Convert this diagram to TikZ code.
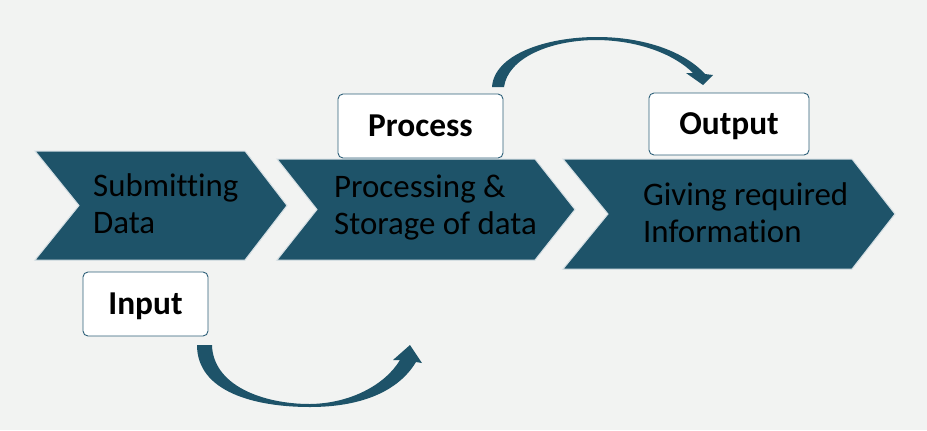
\documentclass[tikz,border=0pt]{standalone}
\usepackage{fontspec}
\setmainfont{Carlito}[Ligatures=NoCommon]
\definecolor{bgc}{HTML}{F2F3F2}
\definecolor{teal}{HTML}{1E5369}
\definecolor{chevline}{HTML}{D5DFE4}
\definecolor{boxline}{HTML}{2E6079}
\begin{document}
\begin{tikzpicture}[x=1bp,y=-1bp,
  chev/.style={fill=teal,draw=chevline,line width=1bp,line join=miter},
  chevtext/.style={anchor=north west,inner sep=0pt,align=left,text=black,
    font=\fontsize{33}{37.5}\selectfont},
  lbl/.style={draw=boxline,line width=0.9bp,fill=white,rounded corners=5bp,
    inner sep=0pt,text height=21.3bp,text depth=0pt,
    font=\fontsize{33.5}{38}\selectfont\bfseries},
  curvearrow/.style={fill=teal,draw=none}]
\fill[bgc] (0,0) rectangle (927,430);
\useasboundingbox (0,0) rectangle (927,430);
% chevrons
\draw[chev] (35,151) -- (245,151) -- (287,205.5) -- (245,260) -- (35,260) -- (79,205.5) -- cycle;
\draw[chev] (277,159) -- (535,159) -- (575,209.5) -- (535,260) -- (277,260) -- (317,209.5) -- cycle;
\draw[chev] (563,159) -- (852,159) -- (895,214) -- (852,269) -- (563,269) -- (608,214) -- cycle;
% chevron texts
\node[chevtext] (t1) at (93,173.5) {Submitting\\Data};
\node[chevtext] (t2) at (334,174.5) {Processing \&\\Storage of data};
\node[chevtext] (t3) at (643,182.5) {Giving required\\Information};
% labels
\node[lbl,minimum width=165bp,minimum height=64bp] (proc) at (420.5,126) {Process};
\node[lbl,minimum width=160bp,minimum height=62bp] (outp) at (729,124) {Output};
\node[lbl,minimum width=125bp,minimum height=64bp] (inp) at (145.5,304) {Input};
% bottom curved arrow
\fill[curvearrow] (197,345) .. controls (197,392) and (255,407) .. (310,407)
  .. controls (360,407) and (398,392) .. (416,362)
  -- (422,363) -- (410,345) -- (393,360) -- (400,360)
  .. controls (385,385) and (350,403.5) .. (310,404)
  .. controls (262,404) and (213,385) .. (212,345) -- cycle;
% top curved arrow
\fill[curvearrow] (492,87) .. controls (494,55) and (545,37) .. (597,37)
  .. controls (645,37) and (685,52) .. (705,74)
  -- (713,75) -- (703,85) -- (686,73) -- (693,73)
  .. controls (675,55) and (640,40.5) .. (597,40)
  .. controls (550,40) and (508,58) .. (504,87) -- cycle;
\end{tikzpicture}
\end{document}
